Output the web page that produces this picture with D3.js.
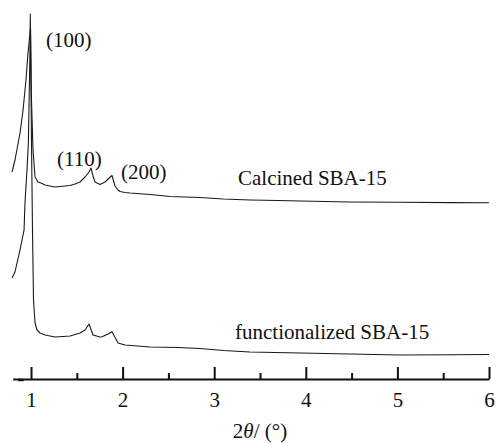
<!DOCTYPE html>
<html>
<head>
<meta charset="utf-8">
<script src="https://cdn.jsdelivr.net/npm/d3@7"></script>
<style>
    body { margin: 0; background: #fff; }
    svg text { font-family: "Liberation Serif", "DejaVu Serif", serif !important; fill: #111; }
</style>
</head>
<body>
<svg id="chart"></svg>
<script>
// XRD patterns: [2theta (deg), intensity (a.u.)]
const calcined = [
    [0.793, 207], [0.825, 219], [0.88, 246], [0.913, 269], [0.945, 299], [0.967, 326],
    [0.995, 351], [1.005, 279], [1.022, 229], [1.044, 202], [1.076, 197], [1.12, 195.5],
    [1.153, 194], [1.207, 193], [1.262, 192], [1.317, 192.5], [1.371, 193], [1.426, 193.5],
    [1.48, 195], [1.535, 197], [1.59, 202], [1.633, 207], [1.655, 211], [1.677, 203],
    [1.699, 197], [1.753, 194.5], [1.808, 197], [1.841, 200], [1.884, 203.5], [1.917, 193],
    [1.95, 189], [1.972, 187.5], [2.026, 186.5], [2.081, 186], [2.3, 184.5], [2.52, 182.5],
    [2.845, 181.5], [3.1, 180], [3.39, 179], [3.7, 178.5], [3.94, 178], [4.48, 177],
    [5.03, 176.7], [5.57, 176.4], [6.0, 176.3]
];
const functionalized = [
    [0.793, 101], [0.825, 107], [0.847, 116], [0.88, 129], [0.902, 139], [0.924, 149],
    [0.934, 176], [0.956, 209], [0.971, 236], [0.987, 319], [0.992, 365], [1.005, 239],
    [1.016, 149], [1.027, 79], [1.044, 56], [1.066, 49], [1.098, 46], [1.153, 44],
    [1.262, 42], [1.35, 42.5], [1.426, 43], [1.535, 46], [1.59, 49], [1.633, 55],
    [1.677, 44], [1.753, 42], [1.775, 42.3], [1.841, 45], [1.884, 47.3], [1.95, 36],
    [2.026, 34], [2.3, 32], [2.6, 31.5], [2.845, 30.5], [3.1, 28.5], [3.39, 27],
    [3.94, 26], [4.48, 25], [5.03, 24], [5.6, 24.3], [6.0, 24.5]
];
const majorTicks = [1, 2, 3, 4, 5, 6];
const minorTicks = [1.5, 2.5, 3.5, 4.5, 5.5];
// peak indices and sample names, anchored in data units
const peakLabels = [
    { text: '(100)', x: 1.164, y: 332 },
    { text: '(110)', x: 1.284, y: 213 },
    { text: '(200)', x: 1.983, y: 200 }
];
const seriesLabels = [
    { text: 'Calcined SBA-15', x: 3.26, y: 194 },
    { text: 'functionalized SBA-15', x: 3.227, y: 40 }
];

const width = 496, height = 444;
const axisY = 379;
const serif = '"Liberation Serif", "DejaVu Serif", serif';

const svg = d3.select('#chart')
    .attr('width', width)
    .attr('height', height);

const x = d3.scaleLinear().domain([0.8, 6.0]).range([12.7, 489]);
const y = d3.scaleLinear().domain([0, 365]).range([axisY, 14]);

const line = d3.line()
    .x(d => x(d[0]))
    .y(d => y(d[1]));

// curves
[calcined, functionalized].forEach(series => {
    svg.append('path')
        .datum(series)
        .attr('d', line)
        .attr('fill', 'none')
        .attr('stroke', '#1a1a1a')
        .attr('stroke-width', 1.1)
        .attr('stroke-linejoin', 'round');
});

// x axis, ticks pointing up
const major = svg.append('g')
    .attr('transform', `translate(0,${axisY})`)
    .call(d3.axisBottom(x).tickValues(majorTicks).tickSizeInner(-12).tickSizeOuter(0)
        .tickPadding(13).tickFormat(d3.format('d')));
major.attr('font-family', serif);
major.select('.domain').attr('stroke', '#111').attr('stroke-width', 2);
major.selectAll('.tick line').attr('stroke', '#111').attr('stroke-width', 2);
major.selectAll('.tick text')
    .style('font-family', serif)
    .style('font-size', '21px')
    .attr('fill', '#111');

const minor = svg.append('g')
    .attr('transform', `translate(0,${axisY})`)
    .call(d3.axisBottom(x).tickValues(minorTicks).tickSizeInner(-6).tickSizeOuter(0).tickFormat(''));
minor.select('.domain').remove();
minor.selectAll('.tick line').attr('stroke', '#111').attr('stroke-width', 2);

// small thick stub at the left end of the axis
svg.append('line')
    .attr('x1', x(0.86)).attr('x2', x(0.92))
    .attr('y1', axisY + 1).attr('y2', axisY + 1)
    .attr('stroke', '#111').attr('stroke-width', 2.5);

// axis title: 2θ/ (°)
const title = svg.append('text')
    .attr('x', x(3.5))
    .attr('y', 438)
    .attr('text-anchor', 'middle')
    .style('font-family', serif)
    .style('font-size', '21px');
title.append('tspan').text('2');
title.append('tspan').attr('font-style', 'italic').text('θ');
title.append('tspan').text('/ (°)');

svg.selectAll('.peak')
    .data(peakLabels.concat(seriesLabels))
    .join('text')
    .attr('class', 'peak')
    .attr('x', d => x(d.x))
    .attr('y', d => y(d.y))
    .style('font-family', serif)
    .style('font-size', '21px')
    .text(d => d.text);
</script>
</body>
</html>
